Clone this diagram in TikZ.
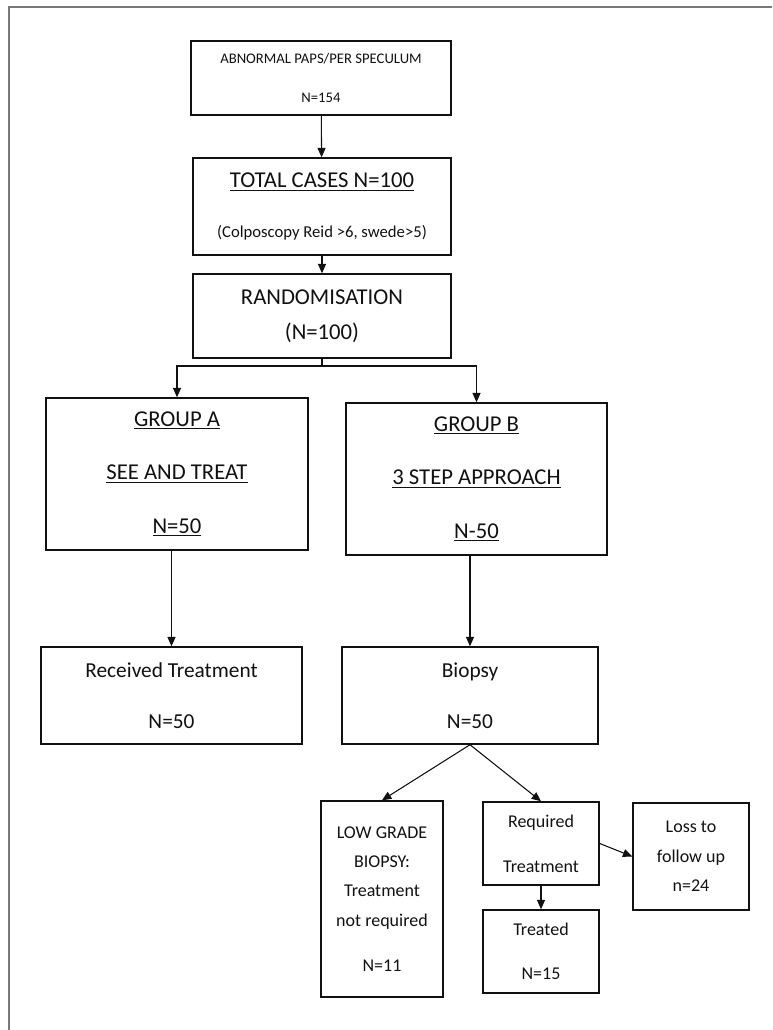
\documentclass[tikz,border=0pt]{standalone}
\usepackage{fontspec}
\setmainfont{Carlito}
\usepackage{xcolor}
\usetikzlibrary{arrows.meta}
\definecolor{cFrame}{HTML}{787878}
\definecolor{cInk}{HTML}{111111}
\tikzset{
  pbox/.style 2 args={draw=cInk,line width=1.1pt,align=center,inner sep=0pt,text=cInk,
    minimum width=#1*0.75pt,minimum height=#2*0.75pt},
  arr/.style={-{Triangle[length=7pt,width=6pt]},line width=0.8pt,color=cInk},
}
\begin{document}
\begin{tikzpicture}[x=0.75pt,y=-0.75pt]
    \useasboundingbox (0,0) rectangle (772,1030);
    \draw[cFrame,line width=1.5pt] (772,7) -- (9,7) -- (9,1030);
    % main column
    \node[pbox={260}{74},font=\fontsize{11}{29}\selectfont] (abn) at (321,78) {ABNORMAL PAPS/PER SPECULUM\\N=154};
    \node[pbox={258}{97},font=\fontsize{17}{37}\selectfont] (total) at (322,206.5) {\underline{TOTAL CASES N=100}\\{\fontsize{12.5}{37}\selectfont (Colposcopy Reid >6, swede>5)}};
    \node[pbox={258}{84},font=\fontsize{17}{26}\selectfont] (rand) at (322,316) {RANDOMISATION\\(N=100)};
    \coordinate (split) at (322,366);
    % the two groups
    \node[pbox={262}{152},font=\fontsize{17}{40}\selectfont] (grpA) at (177,474) {\underline{GROUP A}\\\underline{SEE AND TREAT}\\\underline{N=50}};
    \node[pbox={261}{152},font=\fontsize{17}{40}\selectfont] (grpB) at (476.5,479) {\underline{GROUP B}\\\underline{3 STEP APPROACH}\\\underline{N-50}};
    \node[pbox={261}{97},font=\fontsize{16}{38}\selectfont] (recv) at (171.5,695.5) {Received Treatment\\N=50};
    \node[pbox={256}{97},font=\fontsize{16}{38}\selectfont] (biopsy) at (470,695.5) {Biopsy\\N=50};
    % biopsy outcomes
    \node[pbox={122}{196},font=\fontsize{13.5}{22}\selectfont] (lowgr) at (382,899) {LOW GRADE\\BIOPSY:\\Treatment\\not required\\[12pt]N=11};
    \node[pbox={116}{83},font=\fontsize{13.5}{34}\selectfont] (reqd) at (541,843.5) {Required\\Treatment};
    \node[pbox={116}{107},font=\fontsize{13.5}{22}\selectfont] (loss) at (691,856.5) {Loss to\\follow up\\n=24};
    \node[pbox={116}{83},font=\fontsize{13.5}{33}\selectfont] (treated) at (541,951.5) {Treated\\N=15};
    % connectors
    \draw[arr] (abn) -- (total);
    \draw[arr] (total) -- (rand);
    \draw[arr] (rand.south) -- (split) -| (grpA.north);
    \draw[arr] (split) -| (grpB.north);
    \draw[arr] (recv.north |- grpA.south) -- (recv.north);
    \draw[arr] (biopsy.north |- grpB.south) -- (biopsy.north);
    \draw[arr] (biopsy.south) -- (lowgr.north);
    \draw[arr] (biopsy.south) -- (reqd.north);
    \draw[arr] (reqd.east) -- (loss.west);
    \draw[arr] (reqd) -- (treated);
\end{tikzpicture}
\end{document}
